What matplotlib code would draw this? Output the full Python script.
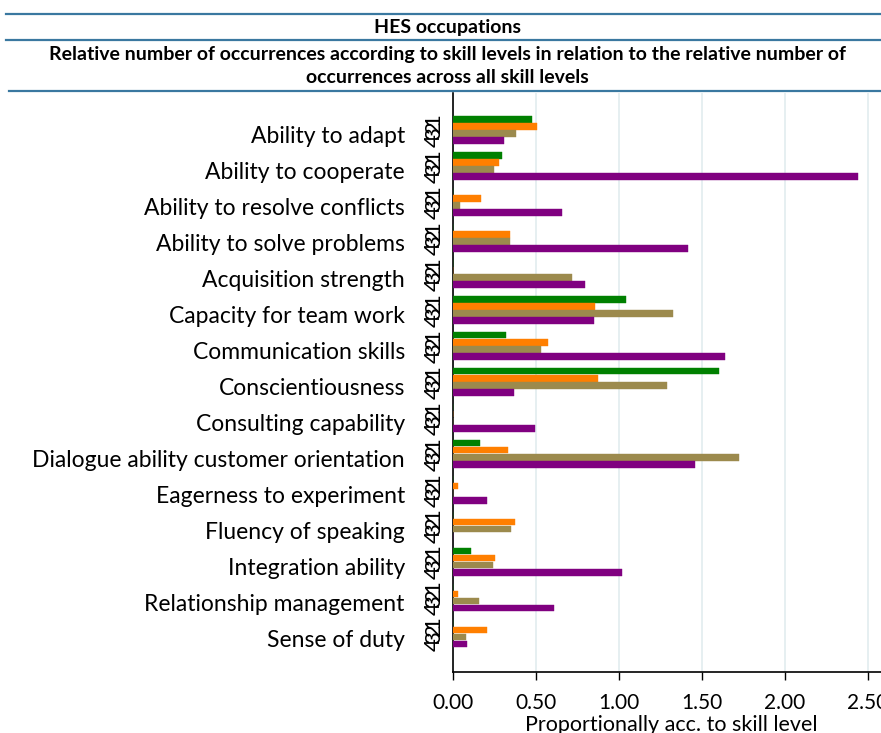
import numpy as np
import matplotlib
matplotlib.use("Agg")
import matplotlib.pyplot as plt

plt.rcParams["font.family"] = ["Lato", "DejaVu Sans"]

# --- DATA ---
categories = [
    "Ability to adapt", "Ability to cooperate", "Ability to resolve conflicts",
    "Ability to solve problems", "Acquisition strength", "Capacity for team work",
    "Communication skills", "Conscientiousness", "Consulting capability",
    "Dialogue ability customer orientation", "Eagerness to experiment",
    "Fluency of speaking", "Integration ability", "Relationship management",
    "Sense of duty",
]
level_labels = ["1", "2", "3", "4"]
level1 = [0.477, 0.292, 0.0, 0.0, 0.0, 1.042, 0.316, 1.604, 0.0, 0.159, 0.0, 0.0, 0.109, 0.0, 0.0]
level2 = [0.503, 0.274, 0.169, 0.342, 0.0, 0.853, 0.571, 0.875, 0.0, 0.330, 0.030, 0.372, 0.254, 0.026, 0.203]
level3 = [0.380, 0.244, 0.042, 0.340, 0.714, 1.328, 0.529, 1.292, 0.0, 1.722, 0.0, 0.348, 0.241, 0.153, 0.075]
level4 = [0.304, 2.444, 0.654, 1.415, 0.797, 0.847, 1.640, 0.366, 0.493, 1.460, 0.203, 0.0, 1.018, 0.610, 0.084]
x_ticks = [0.0, 0.5, 1.0, 1.5, 2.0, 2.5]

COLORS = ["#008000", "#ff7f00", "#9c8a4d", "#800080"]
LINE_BLUE = "#3a78a0"
GRID = "#e6eff1"

fig = plt.figure(figsize=(8.81, 7.33), dpi=100)

# header lines and titles
for yy, x0 in [(14, 6), (40, 6), (91, 9)]:
    fig.add_artist(plt.Line2D([x0 / 881, 1], [1 - yy / 733] * 2, color=LINE_BLUE, lw=1.6))
fig.text(0.508, 1 - 28 / 733, "HES occupations", ha="center", va="center",
         fontsize=14, fontweight="bold")
fig.text(0.508, 1 - 66 / 733,
         "Relative number of occurrences according to skill levels in relation to the relative number of\n"
         "occurrences across all skill levels",
         ha="center", va="center", fontsize=14, fontweight="bold", linespacing=1.4)

ax = fig.add_axes([453.3 / 881, 1 - 671.7 / 733, (890 - 453.3) / 881, (671.7 - 93) / 733])

series = [level1, level2, level3, level4]
n = len(categories)
pos = np.arange(n)
step = 0.197
for k, vals in enumerate(series):
    yk = pos + (k - 1.5) * step
    ax.barh(yk, vals, height=step * 0.92, color=COLORS[k], edgecolor=COLORS[k], lw=0.3, zorder=3)
    for y in yk:
        ax.text(-0.022, y, level_labels[k], transform=ax.get_yaxis_transform(),
                rotation=90, ha="right", va="center", fontsize=16, color="black")

for i, cat in enumerate(categories):
    ax.text(-0.111, i + 0.36, cat, transform=ax.get_yaxis_transform(),
            ha="right", va="baseline", fontsize=16.5)

ax.set_ylim(n - 1 + 1.06, -1.03)
ax.set_xlim(0, (890 - 453.3) / 165.7)
ax.set_yticks([])
ax.set_xticks(x_ticks)
ax.set_xticklabels([f"{t:.2f}" for t in x_ticks], fontsize=15)
ax.tick_params(axis="x", length=6, width=1, pad=9)
ax.set_xlabel("Proportionally acc. to skill level", fontsize=15.5, labelpad=2)
ax.grid(axis="x", color=GRID, lw=1.4, zorder=0)

for s in ["top", "right"]:
    ax.spines[s].set_visible(False)
ax.spines["left"].set_linewidth(1.2)
ax.spines["bottom"].set_linewidth(1.2)

fig.savefig("out.png", dpi=100)
